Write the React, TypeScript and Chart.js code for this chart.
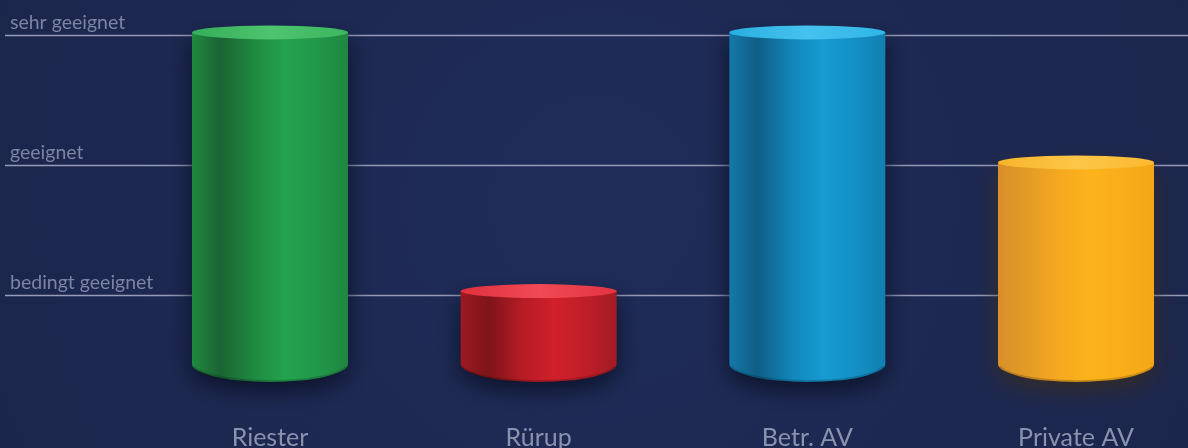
import React, { useEffect, useRef } from "react";
import { Chart, registerables } from "chart.js";

Chart.register(...registerables);

const categories = ["Riester", "Rürup", "Betr. AV", "Private AV"];
const values = [3.02, 1.03, 3.02, 2.02];
const baseValue = 0.47;
const levelValues = [1, 2, 3];
const levelLabels = ["bedingt geeignet", "geeignet", "sehr geeignet"];

const palettes = [
  { body: ["#208a40", "#1b6333", "#1f8a41", "#23a34e", "#21984a", "#1f8641"], top: ["#36ad58", "#4ec46f", "#3cb660"], shadow: "rgba(8,14,34,0.9)" },
  { body: ["#9c1a22", "#7e1419", "#b71c25", "#d0202b", "#c01e28", "#a21b23"], top: ["#e0303c", "#f04a55", "#e43440"], shadow: "rgba(8,14,34,0.9)" },
  { body: ["#1479a8", "#0f5e86", "#1286ba", "#169bd1", "#1490c6", "#127fb0"], top: ["#2aaee0", "#45c2ef", "#30b4e6"], shadow: "rgba(8,14,34,0.9)" },
  { body: ["#d98f2a", "#e29a26", "#f6a91e", "#fcb31b", "#f9ad19", "#f4a617"], top: ["#f8b52a", "#fdc648", "#fab930"], shadow: "rgba(70,45,10,0.6)" },
];

const bgPlugin = {
  id: "bgPlugin",
  beforeDraw(chart: any) {
    const { ctx, width, height } = chart;
    ctx.save();
    const g = ctx.createRadialGradient(width * 0.5, height * 0.45, 50, width * 0.5, height * 0.45, width * 0.7);
    g.addColorStop(0, "#1f2c58");
    g.addColorStop(1, "#1a2449");
    ctx.fillStyle = g;
    ctx.fillRect(0, 0, width, height);
    ctx.restore();
  },
  beforeDatasetsDraw(chart: any) {
    const { ctx, width } = chart;
    const y = chart.scales.y;
    ctx.save();
    ctx.strokeStyle = "#959bb8";
    ctx.lineWidth = 1.3;
    ctx.fillStyle = "#7c84a4";
    ctx.font = "19.5px Lato";
    ctx.textBaseline = "alphabetic";
    ctx.textAlign = "left";
    levelValues.forEach((v, i) => {
      const py = Math.round(y.getPixelForValue(v)) + 0.5;
      ctx.beginPath();
      ctx.moveTo(5, py);
      ctx.lineTo(width, py);
      ctx.stroke();
      ctx.fillText(levelLabels[i], 10, py - 7);
    });
    ctx.restore();
  },
  afterDatasetsDraw(chart: any) {
    const ctx = chart.ctx;
    const meta = chart.getDatasetMeta(0);
    meta.data.forEach((bar: any, i: number) => {
      const { x, y, base, width } = bar.getProps(["x", "y", "base", "width"], true);
      const pal = palettes[i % palettes.length];
      const rx = width / 2;
      const left = x - rx;
      const right = x + rx;
      const ryTop = 7;
      const ryBot = 18;
      const grad = ctx.createLinearGradient(left, 0, right, 0);
      const stops = [0, 0.18, 0.4, 0.6, 0.8, 1];
      pal.body.forEach((c: string, k: number) => grad.addColorStop(stops[k], c));
      ctx.save();
      ctx.shadowColor = pal.shadow;
      ctx.shadowBlur = 24;
      ctx.shadowOffsetY = 8;
      ctx.beginPath();
      ctx.moveTo(left, y);
      ctx.lineTo(left, base);
      ctx.ellipse(x, base, rx, ryBot, 0, Math.PI, 0, true);
      ctx.lineTo(right, y);
      ctx.closePath();
      ctx.fillStyle = grad;
      ctx.fill();
      ctx.restore();
      ctx.save();
      ctx.beginPath();
      ctx.ellipse(x, base, rx - 1, ryBot - 1, 0, Math.PI * 0.95, Math.PI * 0.05, true);
      ctx.strokeStyle = "rgba(0,0,0,0.18)";
      ctx.lineWidth = 2;
      ctx.stroke();
      ctx.restore();
      ctx.save();
      const tg = ctx.createLinearGradient(left, 0, right, 0);
      tg.addColorStop(0, pal.top[0]);
      tg.addColorStop(0.5, pal.top[1]);
      tg.addColorStop(1, pal.top[2]);
      ctx.beginPath();
      ctx.ellipse(x, y, rx, ryTop, 0, 0, Math.PI * 2);
      ctx.fillStyle = tg;
      ctx.fill();
      ctx.restore();
    });
  },
};

export default function App() {
  const ref = useRef<HTMLCanvasElement | null>(null);
  useEffect(() => {
    if (!ref.current) return;
    const chart = new Chart(ref.current, {
      type: "bar",
      data: {
        labels: categories,
        datasets: [
          {
            data: values,
            base: baseValue,
            backgroundColor: "rgba(0,0,0,0)",
            borderWidth: 0,
            barThickness: 156,
          } as any,
        ],
      },
      options: {
        responsive: false,
        animation: false,
        devicePixelRatio: 1,
        layout: { padding: { left: 270, right: 112, top: 0, bottom: 0 } },
        plugins: { legend: { display: false }, tooltip: { enabled: false } },
        scales: {
          x: {
            offset: false,
            grid: { display: false, drawTicks: false, offset: false },
            border: { display: false },
            ticks: {
              color: "#8a92ae",
              font: { family: "Lato", size: 25, lineHeight: 1.2 },
              padding: 51,
              maxRotation: 0,
              autoSkip: false,
            },
            afterFit(scale: any) {
              scale.height = 76;
            },
          },
          y: {
            display: false,
            min: 0.4077,
            max: 3.2692,
          },
        },
      },
      plugins: [bgPlugin],
    });
    return () => chart.destroy();
  }, []);
  return (
    <div style={{ position: "fixed", left: 0, top: 0, width: 1188, height: 448 }}>
      <canvas ref={ref} width={1188} height={448} />
    </div>
  );
}
